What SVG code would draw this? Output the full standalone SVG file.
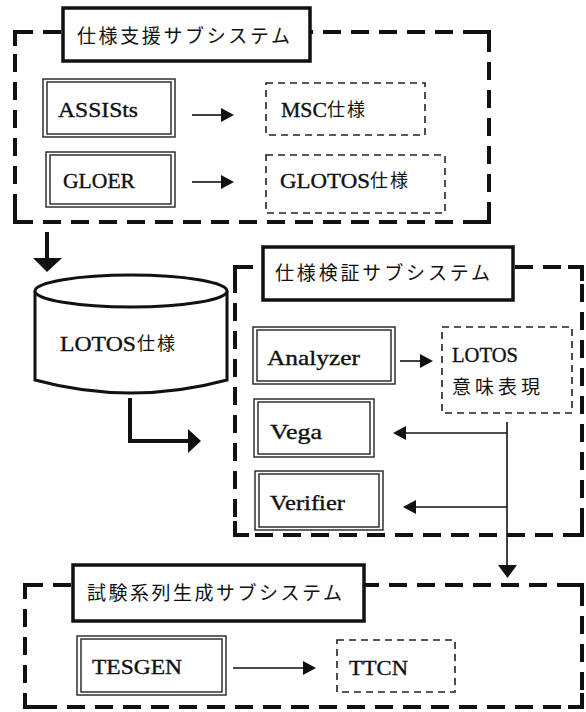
<svg xmlns="http://www.w3.org/2000/svg" width="586" height="712" viewBox="0 0 586 712">
<style>
.bg{fill:#fff}
.grp{fill:none;stroke:#111;stroke-width:4;stroke-dasharray:18 10}
.corner{fill:none;stroke:#111;stroke-width:4}
.title{fill:#fff;stroke:#111;stroke-width:3.5}
.tool{fill:#fff;stroke:#222;stroke-width:1.4}
.doc{fill:none;stroke:#222;stroke-width:1.6;stroke-dasharray:7 5}
.ln{fill:none;stroke:#111;stroke-width:1.6}
.thick{fill:none;stroke:#111;stroke-width:4}
.head{fill:#111}
.jp{font-family:"Noto Sans CJK JP","Noto Sans",sans-serif;font-size:19px;fill:#111}
.jps{font-family:"Noto Sans CJK JP","Noto Sans",sans-serif;font-size:18px;fill:#111}
.en{font-family:"Liberation Serif",serif;font-size:21px;fill:#111;stroke:#111;stroke-width:0.35}
</style>
<rect class="bg" x="0" y="0" width="586" height="712"/>

<g id="spec-support">
  <rect class="grp" x="15" y="32" width="474" height="190"/>
  <path class="corner" d="M15,46 V32 H29 M475,32 H489 V46 M489,208 V222 H475 M29,222 H15 V208"/>
  <rect class="title" x="63" y="8" width="247" height="53"/>
  <text class="jp" x="77" y="43" textLength="213" lengthAdjust="spacing">仕様支援サブシステム</text>
</g>

<g id="assists">
  <rect class="tool" x="43" y="79" width="132" height="58"/>
  <rect class="tool" x="47" y="82" width="124" height="52"/>
  <text class="en" x="58" y="117" textLength="80" lengthAdjust="spacingAndGlyphs">ASSISts</text>
</g>
<g id="msc">
  <rect class="doc" x="266" y="83" width="159" height="52"/>
  <text class="en" x="281" y="117" textLength="46" lengthAdjust="spacingAndGlyphs">MSC</text>
  <text class="jps" x="327" y="116" textLength="38" lengthAdjust="spacing">仕様</text>
</g>
<g id="gloer">
  <rect class="tool" x="46" y="152" width="129" height="55"/>
  <rect class="tool" x="50" y="155" width="121" height="49"/>
  <text class="en" x="63" y="188" textLength="72" lengthAdjust="spacingAndGlyphs">GLOER</text>
</g>
<g id="glotos">
  <rect class="doc" x="266" y="155" width="179" height="58"/>
  <text class="en" x="280" y="188" textLength="90" lengthAdjust="spacingAndGlyphs">GLOTOS</text>
  <text class="jps" x="370" y="187" textLength="38" lengthAdjust="spacing">仕様</text>
</g>

<g id="lotos-spec">
  <path fill="#fff" stroke="#111" stroke-width="3" d="M35,291 V380 Q131,406 227,380 V291"/>
  <ellipse cx="131" cy="291" rx="96" ry="16" fill="#fff" stroke="#111" stroke-width="3"/>
  <text class="en" x="60" y="351" textLength="76" lengthAdjust="spacingAndGlyphs">LOTOS</text>
  <text class="jps" x="137" y="350" textLength="38" lengthAdjust="spacing">仕様</text>
</g>

<g id="spec-verify">
  <rect class="grp" x="235" y="267" width="347" height="268"/>
  <path class="corner" d="M235,281 V267 H249 M568,267 H582 V281 M582,521 V535 H568 M249,535 H235 V521"/>
  <rect class="title" x="263" y="247" width="250" height="53"/>
  <text class="jp" x="275" y="280" textLength="215" lengthAdjust="spacing">仕様検証サブシステム</text>
</g>
<g id="analyzer">
  <rect class="tool" x="253" y="327" width="142" height="57"/>
  <rect class="tool" x="257" y="330" width="134" height="51"/>
  <text class="en" x="267" y="365" textLength="93" lengthAdjust="spacingAndGlyphs">Analyzer</text>
</g>
<g id="lotos-sem">
  <rect class="doc" x="442" y="327" width="130" height="86"/>
  <text class="en" x="452" y="362" textLength="66" lengthAdjust="spacingAndGlyphs">LOTOS</text>
  <text class="jp" x="452" y="394" textLength="88" lengthAdjust="spacing">意味表現</text>
</g>
<g id="vega">
  <rect class="tool" x="254" y="399" width="120" height="58"/>
  <rect class="tool" x="258" y="402" width="112" height="52"/>
  <text class="en" x="270" y="439" textLength="52" lengthAdjust="spacingAndGlyphs">Vega</text>
</g>
<g id="verifier">
  <rect class="tool" x="255" y="471" width="128" height="59"/>
  <rect class="tool" x="259" y="474" width="120" height="53"/>
  <text class="en" x="270" y="510" textLength="75" lengthAdjust="spacingAndGlyphs">Verifier</text>
</g>

<g id="test-gen">
  <rect class="grp" x="25" y="585" width="557" height="122"/>
  <path class="corner" d="M25,599 V585 H39 M568,585 H582 V599 M582,693 V707 H568 M39,707 H25 V693"/>
  <rect class="title" x="73" y="565" width="291" height="56"/>
  <text class="jp" x="87" y="600" textLength="255" lengthAdjust="spacing">試験系列生成サブシステム</text>
</g>
<g id="tesgen">
  <rect class="tool" x="77" y="636" width="149" height="59"/>
  <rect class="tool" x="81" y="639" width="141" height="53"/>
  <text class="en" x="92" y="674" textLength="90" lengthAdjust="spacingAndGlyphs">TESGEN</text>
</g>
<g id="ttcn">
  <rect class="doc" x="337" y="640" width="118" height="52"/>
  <text class="en" x="349" y="675" textLength="59" lengthAdjust="spacingAndGlyphs">TTCN</text>
</g>

<g id="connectors">
  <path class="ln" d="M192,115 H223"/>
  <polygon class="head" points="221,108 234,115 221,122"/>
  <path class="ln" d="M192,182 H223"/>
  <polygon class="head" points="221,175 234,182 221,189"/>
  <path class="thick" d="M47,232 V259"/>
  <polygon class="head" points="33,258 62,258 47,272"/>
  <path class="thick" d="M130,398 V441 H190"/>
  <polygon class="head" points="188,429 201,441 188,453"/>
  <path class="ln" d="M400,361 H422"/>
  <polygon class="head" points="420,354 433,361 420,368"/>
  <path class="ln" d="M507,422 V567"/>
  <polygon class="head" points="498,565 517,565 507.5,578"/>
  <path class="ln" d="M507,433 H403"/>
  <polygon class="head" points="406,426 393,433 406,440"/>
  <path class="ln" d="M507,507 H413"/>
  <polygon class="head" points="416,500 403,507 416,514"/>
  <path class="ln" d="M233,668 H305"/>
  <polygon class="head" points="303,661 316,668 303,675"/>
</g>
</svg>
